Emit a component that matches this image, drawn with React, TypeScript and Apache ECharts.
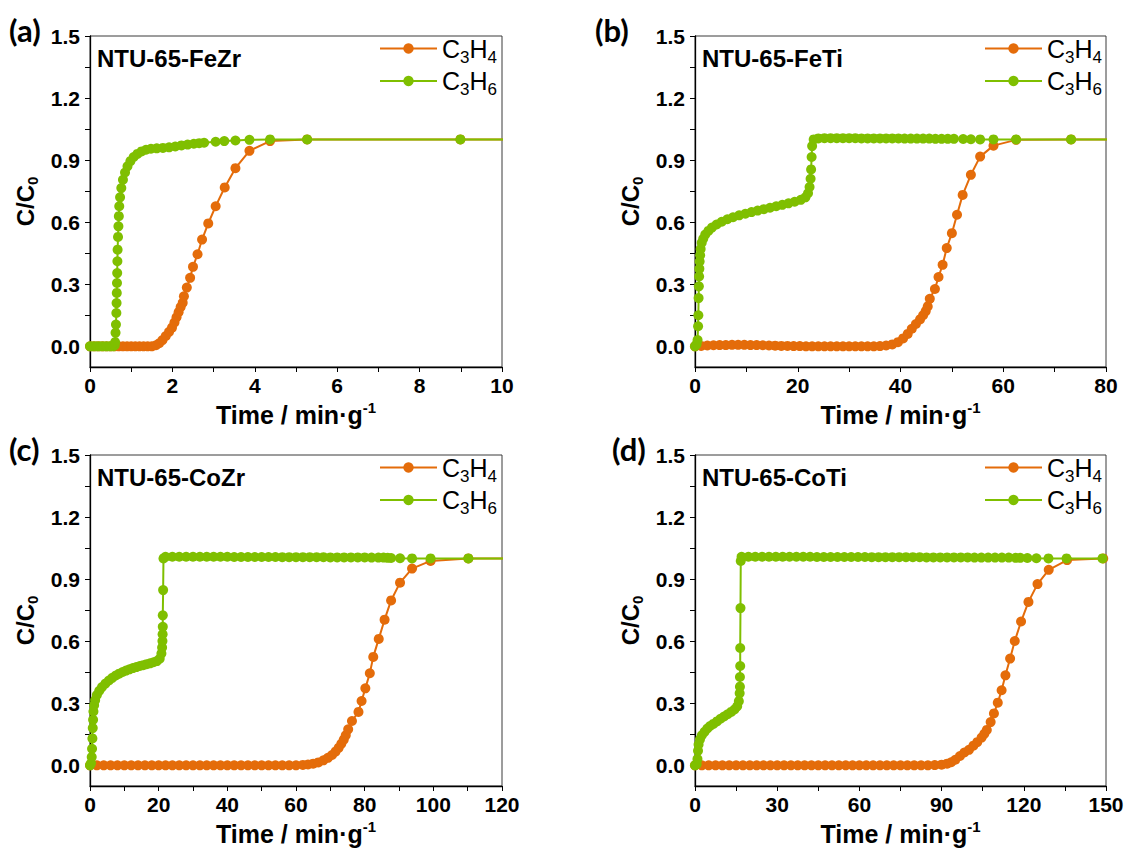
import React, { useEffect, useRef } from "react";
import * as echarts from "echarts";

const FONT = '"Liberation Sans", Arial, Helvetica, sans-serif';
const ORANGE = "#E46C0A";
const GREEN = "#7FBF00";

const SERIES_NAMES = ["C3H4", "C3H6"];
const PANEL_TITLES = ["NTU-65-FeZr", "NTU-65-FeTi", "NTU-65-CoZr", "NTU-65-CoTi"];
const PANEL_LABELS = ["(a)", "(b)", "(c)", "(d)"];
const X_MAX = [10, 80, 120, 150];
const X_INTERVAL = [2, 20, 20, 30];
const Y_TICKS = [0, 0.15, 0.3, 0.45, 0.6, 0.75, 0.9, 1.05, 1.2, 1.35, 1.5];
const Y_LABELS = [0, 0.3, 0.6, 0.9, 1.2, 1.5];

// (a) NTU-65-FeZr
const A_C3H4 = [
  [0, 0], [0.1, 0], [0.2, 0], [0.3, 0], [0.4, 0], [0.5, 0], [0.6, 0], [0.7, 0], [0.8, 0], [0.9, 0],
  [1.0, 0], [1.1, 0], [1.2, 0], [1.3, 0], [1.4, 0], [1.5, 0], [1.6, 0.005], [1.68, 0.015], [1.76, 0.03],
  [1.84, 0.05], [1.92, 0.07], [1.99, 0.09], [2.05, 0.115], [2.1, 0.14], [2.15, 0.165], [2.2, 0.19],
  [2.25, 0.21], [2.28, 0.242], [2.35, 0.284], [2.43, 0.331], [2.5, 0.384], [2.61, 0.445], [2.72, 0.516],
  [2.87, 0.594], [3.05, 0.677], [3.27, 0.768], [3.53, 0.861], [3.87, 0.945], [4.37, 0.992], [5.27, 1.0],
  [8.99, 1.0], [11, 1.0],
];
const A_C3H6 = [
  [0, 0], [0.08, 0], [0.16, 0], [0.24, 0], [0.32, 0], [0.4, 0], [0.48, 0], [0.56, 0], [0.6, 0.005],
  [0.61, 0.02], [0.62, 0.065], [0.63, 0.105], [0.64, 0.161], [0.645, 0.209], [0.65, 0.258], [0.655, 0.306],
  [0.66, 0.354], [0.665, 0.411], [0.67, 0.467], [0.68, 0.529], [0.69, 0.58], [0.7, 0.629], [0.71, 0.677],
  [0.73, 0.72], [0.76, 0.765], [0.8, 0.805], [0.85, 0.84], [0.91, 0.87], [0.98, 0.895], [1.06, 0.915],
  [1.15, 0.93], [1.25, 0.942], [1.36, 0.95], [1.48, 0.955], [1.62, 0.957], [1.77, 0.959], [1.92, 0.962],
  [2.07, 0.966], [2.22, 0.971], [2.37, 0.975], [2.52, 0.979], [2.65, 0.982], [2.77, 0.984], [3.05, 0.989],
  [3.26, 0.992], [3.53, 0.995], [3.87, 0.998], [4.37, 1.0], [5.27, 1.0], [8.99, 1.0], [11, 1.0],
];

// (b) NTU-65-FeTi
const B_C3H4 = [
  [0, 0], [1.2, 0.002], [2.4, 0.004], [3.6, 0.005], [4.8, 0.006], [6, 0.006], [7.2, 0.007], [8.4, 0.007],
  [9.6, 0.007], [10.8, 0.006], [12, 0.006], [13.2, 0.005], [14.4, 0.004], [15.6, 0.003], [16.8, 0.002],
  [18, 0.002], [19.2, 0.001], [20.4, 0.001], [21.6, 0], [22.8, 0], [24, 0], [25.2, 0], [26.4, 0], [27.6, 0],
  [28.8, 0], [30, 0], [31.2, 0], [32.4, 0], [33.6, 0], [34.8, 0], [36, 0.001], [37.2, 0.004], [38.4, 0.009],
  [39.5, 0.02], [40.5, 0.038], [41.4, 0.06], [42.2, 0.085], [43, 0.108], [43.8, 0.13], [44.4, 0.15],
  [44.9, 0.17], [45.3, 0.193], [45.7, 0.23], [46.7, 0.277], [47.4, 0.335], [48.2, 0.394], [49, 0.475],
  [50, 0.547], [51, 0.636], [52.1, 0.732], [53.7, 0.829], [55.5, 0.917], [58.1, 0.97], [62.5, 0.998],
  [73.2, 1.0], [84, 1.0],
];
const B_C3H6 = [
  [0, 0], [0.3, 0.01], [0.5, 0.03], [0.6, 0.097], [0.65, 0.15], [0.7, 0.233], [0.75, 0.29], [0.8, 0.338],
  [0.85, 0.375], [0.9, 0.41], [1, 0.44], [1.1, 0.47], [1.3, 0.5], [1.6, 0.52], [2, 0.54], [2.6, 0.558],
  [3.3, 0.574], [4.2, 0.589], [5.2, 0.602], [6.3, 0.614], [7.4, 0.624], [8.6, 0.633], [9.8, 0.641],
  [11, 0.649], [12.2, 0.656], [13.4, 0.663], [14.6, 0.67], [15.8, 0.677], [17, 0.684], [18.2, 0.691],
  [19.4, 0.699], [20.6, 0.708], [21.5, 0.72], [22, 0.74], [22.3, 0.77], [22.5, 0.81], [22.6, 0.855],
  [22.7, 0.915], [22.8, 0.968], [23.1, 1.0], [24, 1.005], [25.2, 1.006], [26.4, 1.006], [27.6, 1.006],
  [28.8, 1.006], [30, 1.006], [31.2, 1.006], [32.4, 1.005], [33.6, 1.005], [34.8, 1.005], [36, 1.005],
  [37.2, 1.005], [38.4, 1.005], [39.6, 1.005], [40.8, 1.004], [42, 1.004], [43.2, 1.004], [44.4, 1.004],
  [45.6, 1.004], [46.8, 1.003], [48, 1.003], [49.2, 1.003], [50.4, 1.003], [52.2, 1.002], [53.7, 1.001],
  [55.5, 1.0], [58.1, 1.0], [62.5, 1.0], [73.2, 1.0], [84, 1.0],
];

// (c) NTU-65-CoZr
const C_C3H4 = [
  [0, 0], [2, 0], [4, 0], [6, 0], [8, 0], [10, 0], [12, 0], [14, 0], [16, 0], [18, 0], [20, 0], [22, 0],
  [24, 0], [26, 0], [28, 0], [30, 0], [32, 0], [34, 0], [36, 0], [38, 0], [40, 0], [42, 0], [44, 0],
  [46, 0], [48, 0], [50, 0], [52, 0], [54, 0], [56, 0], [58, 0], [60, 0], [62, 0.002], [63.5, 0.004],
  [65, 0.008], [66.5, 0.014], [68, 0.024], [69.3, 0.036], [70.5, 0.05], [71.5, 0.066], [72.4, 0.084],
  [73.2, 0.104], [73.9, 0.124], [74.5, 0.145], [75.2, 0.174], [76.3, 0.214], [78.2, 0.258], [79.1, 0.311],
  [80.2, 0.372], [81.5, 0.445], [82.5, 0.524], [84.1, 0.611], [85.8, 0.704], [87.7, 0.797], [90.3, 0.883],
  [93.8, 0.951], [99.2, 0.988], [110.2, 1.0], [125, 1.0],
];
const C_C3H6 = [
  [0, 0], [0.3, 0.01], [0.5, 0.04], [0.6, 0.08], [0.7, 0.13], [0.8, 0.18], [0.9, 0.22], [1, 0.26],
  [1.2, 0.29], [1.5, 0.315], [2, 0.34], [2.7, 0.36], [3.5, 0.378], [4.5, 0.395], [5.5, 0.41], [6.5, 0.423],
  [7.5, 0.434], [8.5, 0.443], [9.5, 0.451], [10.5, 0.458], [11.5, 0.464], [12.5, 0.47], [13.5, 0.475],
  [14.5, 0.48], [15.5, 0.484], [16.5, 0.489], [17.5, 0.493], [18.5, 0.498], [19.5, 0.504], [20.3, 0.515],
  [20.8, 0.54], [21, 0.57], [21.1, 0.601], [21.15, 0.633], [21.2, 0.67], [21.2, 0.725], [21.3, 0.847],
  [21.4, 1.0], [22, 1.008], [24, 1.008], [26, 1.008], [28, 1.008], [30, 1.008], [32, 1.008], [34, 1.008],
  [36, 1.008], [38, 1.008], [40, 1.008], [42, 1.007], [44, 1.007], [46, 1.007], [48, 1.007], [50, 1.007],
  [52, 1.007], [54, 1.007], [56, 1.006], [58, 1.006], [60, 1.006], [62, 1.006], [64, 1.006], [66, 1.006],
  [68, 1.006], [70, 1.005], [72, 1.005], [74, 1.005], [76, 1.005], [78, 1.005], [80, 1.005], [82, 1.004],
  [84, 1.004], [85.5, 1.004], [86.7, 1.003], [87.7, 1.002], [90.3, 1.001], [93.8, 1.0], [99.2, 1.0],
  [110.2, 1.0], [125, 1.0],
];

// (d) NTU-65-CoTi
const D_C3H4 = [
  [0, 0], [2.5, 0], [5, 0], [7.5, 0], [10, 0], [12.5, 0], [15, 0], [17.5, 0], [20, 0], [22.5, 0], [25, 0],
  [27.5, 0], [30, 0], [32.5, 0], [35, 0], [37.5, 0], [40, 0], [42.5, 0], [45, 0], [47.5, 0], [50, 0],
  [52.5, 0], [55, 0], [57.5, 0], [60, 0], [62.5, 0], [65, 0], [67.5, 0], [70, 0], [72.5, 0], [75, 0],
  [77.5, 0], [80, 0], [82.5, 0], [85, 0], [87.5, 0.001], [90, 0.003], [92, 0.008], [93.5, 0.015],
  [95, 0.027], [96.7, 0.045], [98.3, 0.062], [100, 0.075], [101.6, 0.095], [103, 0.112], [104.6, 0.134],
  [105.6, 0.152], [106.5, 0.171], [107.9, 0.209], [109.1, 0.251], [110.5, 0.303], [111.9, 0.363],
  [113.3, 0.435], [115, 0.516], [116.7, 0.601], [119, 0.695], [121.7, 0.79], [125, 0.876], [129.1, 0.945],
  [135.8, 0.992], [149, 1.0], [155, 1.0],
];
const D_C3H6 = [
  [0, 0], [0.6, 0.005], [0.9, 0.03], [1.1, 0.07], [1.3, 0.1], [1.8, 0.125], [2.5, 0.145], [3.5, 0.162],
  [4.5, 0.178], [5.5, 0.19], [6.7, 0.2], [8, 0.212], [9.3, 0.225], [10.6, 0.236], [11.9, 0.247],
  [13.2, 0.258], [14.4, 0.27], [15.4, 0.285], [16, 0.31], [16.3, 0.348], [16.4, 0.38], [16.4, 0.427],
  [16.5, 0.48], [16.5, 0.567], [16.6, 0.76], [16.7, 0.988], [17, 1.008], [19.5, 1.008], [22, 1.008],
  [24.5, 1.008], [27, 1.008], [29.5, 1.008], [32, 1.008], [34.5, 1.008], [37, 1.008], [39.5, 1.008],
  [42, 1.008], [44.5, 1.007], [47, 1.007], [49.5, 1.007], [52, 1.007], [54.5, 1.007], [57, 1.007],
  [59.5, 1.007], [62, 1.007], [64.5, 1.006], [67, 1.006], [69.5, 1.006], [72, 1.006], [74.5, 1.006],
  [77, 1.006], [79.5, 1.006], [82, 1.006], [84.5, 1.005], [87, 1.005], [89.5, 1.005], [92, 1.005],
  [94.5, 1.005], [97, 1.005], [99.5, 1.005], [102, 1.004], [104.5, 1.004], [107, 1.004], [109.5, 1.004],
  [112, 1.004], [114.5, 1.004], [117, 1.003], [118.7, 1.003], [121.3, 1.002], [124.6, 1.001], [129, 1.0],
  [135.6, 1.0], [148.7, 1.0], [155, 1.0],
];

const PANEL_DATA = [
  [A_C3H4, A_C3H6],
  [B_C3H4, B_C3H6],
  [C_C3H4, C_C3H6],
  [D_C3H4, D_C3H6],
];

// layout (pixels)
const GRID_POS = [
  { left: 90, top: 36, width: 412, height: 331 },
  { left: 695, top: 36, width: 411, height: 331 },
  { left: 90, top: 455, width: 412, height: 331 },
  { left: 695, top: 455, width: 411, height: 331 },
];
const LABEL_POS = [
  { x: 9, y: 30 },
  { x: 595, y: 30 },
  { x: 9, y: 449 },
  { x: 612, y: 449 },
];

function buildOption() {
  const grid: any[] = [];
  const xAxis: any[] = [];
  const yAxis: any[] = [];
  const series: any[] = [];
  const legend: any[] = [];
  const graphic: any[] = [];

  GRID_POS.forEach((g, i) => {
    grid.push({
      left: g.left,
      top: g.top,
      width: g.width,
      height: g.height,
      show: true,
      borderColor: "#3a3a3a",
      borderWidth: 1,
      backgroundColor: "transparent",
    });
    xAxis.push({
      type: "value",
      gridIndex: i,
      min: 0,
      max: X_MAX[i],
      interval: X_INTERVAL[i],
      axisLine: { show: true, onZero: false, lineStyle: { color: "#000", width: 1.3 } },
      axisTick: { show: true, inside: false, length: 5, lineStyle: { color: "#000", width: 1 } },
      minorTick: { show: true, splitNumber: 2, length: 5, lineStyle: { color: "#000", width: 1 } },
      splitLine: { show: false },
      minorSplitLine: { show: false },
      axisLabel: {
        margin: 8,
        color: "#000",
        fontFamily: FONT,
        fontWeight: "bold",
        fontSize: 21,
      },
      name: "{m|Time / min·g}{p|-1}",
      nameLocation: "middle",
      nameGap: 33,
      nameTextStyle: {
        color: "#000",
        rich: {
          m: { fontFamily: FONT, fontWeight: "bold", fontSize: 25, lineHeight: 30, color: "#000" },
          p: {
            fontFamily: FONT,
            fontWeight: "bold",
            fontSize: 15,
            lineHeight: 15,
            verticalAlign: "top",
            color: "#000",
          },
        },
      },
    });
    yAxis.push({
      type: "value",
      gridIndex: i,
      min: -0.1,
      max: 1.5,
      axisLine: { show: true, onZero: false, lineStyle: { color: "#000", width: 1.3 } },
      axisTick: {
        show: true,
        inside: false,
        length: 5,
        customValues: Y_TICKS,
        lineStyle: { color: "#000", width: 1 },
      },
      splitLine: { show: false },
      axisLabel: {
        customValues: Y_LABELS,
        margin: 10,
        color: "#000",
        fontFamily: FONT,
        fontWeight: "bold",
        fontSize: 21,
        formatter: (v: number) => v.toFixed(1),
      },
      name: "{m|C/C}{s|0}",
      nameLocation: "middle",
      nameGap: 50,
      nameTextStyle: {
        color: "#000",
        rich: {
          m: { fontFamily: FONT, fontWeight: "bold", fontSize: 24, lineHeight: 30, color: "#000" },
          s: {
            fontFamily: FONT,
            fontWeight: "bold",
            fontSize: 15,
            lineHeight: 15,
            verticalAlign: "bottom",
            color: "#000",
          },
        },
      },
    });

    const [orange, green] = PANEL_DATA[i];
    [orange, green].forEach((d, k) => {
      const color = k === 0 ? ORANGE : GREEN;
      series.push({
        name: SERIES_NAMES[k],
        type: "line",
        xAxisIndex: i,
        yAxisIndex: i,
        data: d,
        symbol: "circle",
        symbolSize: 10,
        showSymbol: true,
        showAllSymbol: true,
        clip: true,
        z: 2 + k,
        lineStyle: { color, width: 2 },
        itemStyle: { color },
        emphasis: { disabled: true },
      });
    });

    legend.push({
      data: SERIES_NAMES,
      orient: "vertical",
      left: g.left + 289,
      top: g.top,
      padding: 0,
      itemGap: 3,
      itemWidth: 57,
      itemHeight: 13,
      selectedMode: false,
      formatter: (name: string) =>
        name === "C3H4" ? "{m|C}{s|3}{m|H}{s|4}" : "{m|C}{s|3}{m|H}{s|6}",
      textStyle: {
        color: "#000",
        rich: {
          m: { fontFamily: FONT, fontSize: 25, lineHeight: 34, color: "#000" },
          s: { fontFamily: FONT, fontSize: 17, lineHeight: 17, verticalAlign: "bottom", color: "#000" },
        },
      },
    });

    graphic.push({
      type: "text",
      left: g.left + 7,
      top: g.top + 10,
      style: {
        text: PANEL_TITLES[i],
        fill: "#000",
        font: `bold 24px ${FONT}`,
      },
    });
    graphic.push({
      type: "text",
      x: LABEL_POS[i].x,
      y: LABEL_POS[i].y,
      style: {
        text: PANEL_LABELS[i],
        fill: "#000",
        font: 'bold 31px Lato, "Open Sans", sans-serif',
        verticalAlign: "middle",
      },
    });
  });

  return {
    animation: false,
    backgroundColor: "#fff",
    grid,
    xAxis,
    yAxis,
    series,
    legend,
    graphic,
  };
}

export default function App() {
  const ref = useRef<HTMLDivElement>(null);
  useEffect(() => {
    if (!ref.current) return;
    const chart = echarts.init(ref.current, undefined, { renderer: "svg" });
    chart.setOption(buildOption() as any);
    return () => chart.dispose();
  }, []);
  return (
    <div
      ref={ref}
      style={{ position: "fixed", left: 0, top: 0, width: 1129, height: 852, background: "#fff" }}
    />
  );
}
